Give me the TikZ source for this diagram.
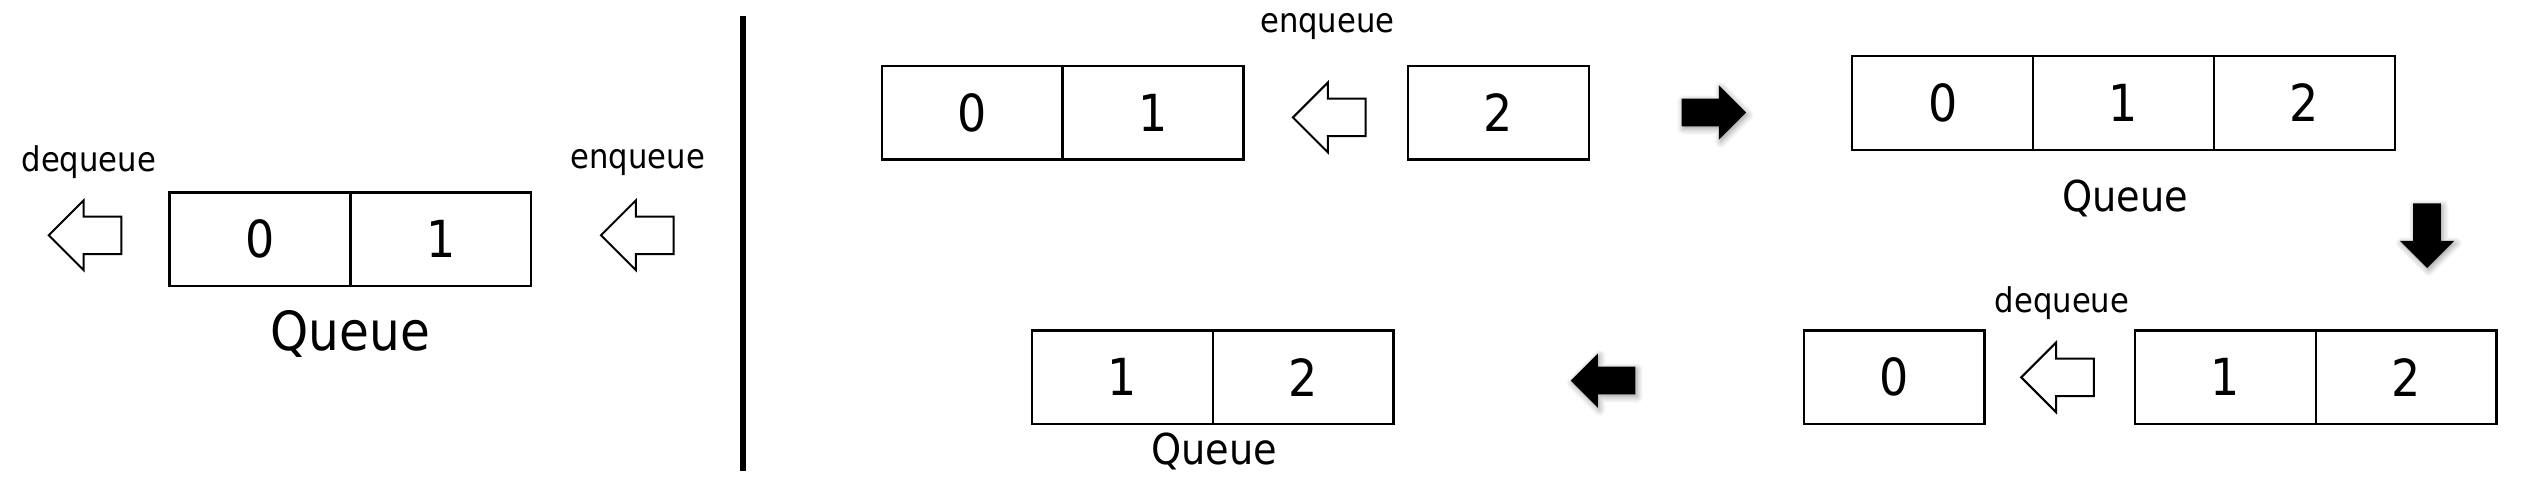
\documentclass[tikz,border=0pt]{standalone}
\usepackage{fontspec}
\setmainfont{DejaVu Sans Condensed}
\usetikzlibrary{positioning,shapes.arrows,shadows.blur}
\tikzset{
  cell/.style={draw,line width=0.8pt,outer sep=0pt,inner sep=0pt,minimum width=22.4mm,minimum height=11.6mm,font=\fontsize{18}{18}\selectfont},
  hollow/.style={single arrow,draw,line width=0.7pt,fill=white,inner xsep=0pt,inner ysep=2.2mm,minimum height=9mm,single arrow head extend=2mm},
  blackarrow/.style={single arrow,fill=black,inner xsep=0pt,inner ysep=1.65mm,minimum height=8mm,single arrow head extend=1.65mm,blur shadow={shadow xshift=0.6pt,shadow yshift=-0.8pt,shadow blur steps=6}},
  lbl/.style={font=\fontsize{12}{12}\selectfont},
  qlbl/.style={font=\fontsize{15}{15}\selectfont},
}
\begin{document}
\begin{tikzpicture}[x=0.2mm,y=0.2mm]
\useasboundingbox (0,0) rectangle (1568,304.7);
% left: queue with both ends
\node[cell] (L0) at (161,156.5) {0};
\node[cell,right=0pt of L0] (L1) {1};
\node[font=\fontsize{19}{19}\selectfont] (LQ) at (217,98) {Queue};
\node[hollow,shape border rotate=180] (Ldeq) at (58.5,159) {};
\node[lbl] (Ldeqt) at (55,204) {dequeue};
\node[hollow,shape border rotate=180] (Lenq) at (400.5,159) {};
\node[lbl] (Lenqt) at (395,204) {enqueue};
\draw[line width=2pt] (460,295)--(460,13);
% enqueue 2
\node[cell] (A0) at (602,235) {0};
\node[cell,right=0pt of A0] (A1) {1};
\node[hollow,shape border rotate=180] (Aenq) at (829,232) {};
\node[lbl] (Aenqt) at (822,288) {enqueue};
\node[cell] (A2) at (928,235) {2};
\node[blackarrow] (AB) at (1057,235) {};
% queue 0 1 2
\node[cell] (B0) at (1203,241) {0};
\node[cell,right=0pt of B0] (B1) {1};
\node[cell,right=0pt of B1] (B2) {2};
\node[qlbl] (BQ) at (1316,182) {Queue};
\node[blackarrow,rotate=-90] (BC) at (1503,163) {};
% dequeue 0
\node[cell] (C0) at (1173,71) {0};
\node[hollow,shape border rotate=180] (Cdeq) at (1280,71) {};
\node[lbl] (Cdeqt) at (1277,117) {dequeue};
\node[cell] (C1) at (1378,71) {1};
\node[cell,right=0pt of C1] (C2) {2};
\node[blackarrow,shape border rotate=180] (CD) at (997,69) {};
% result
\node[cell] (D1) at (695,71) {1};
\node[cell,right=0pt of D1] (D2) {2};
\node[qlbl] (DQ) at (752,25) {Queue};
\end{tikzpicture}
\end{document}
